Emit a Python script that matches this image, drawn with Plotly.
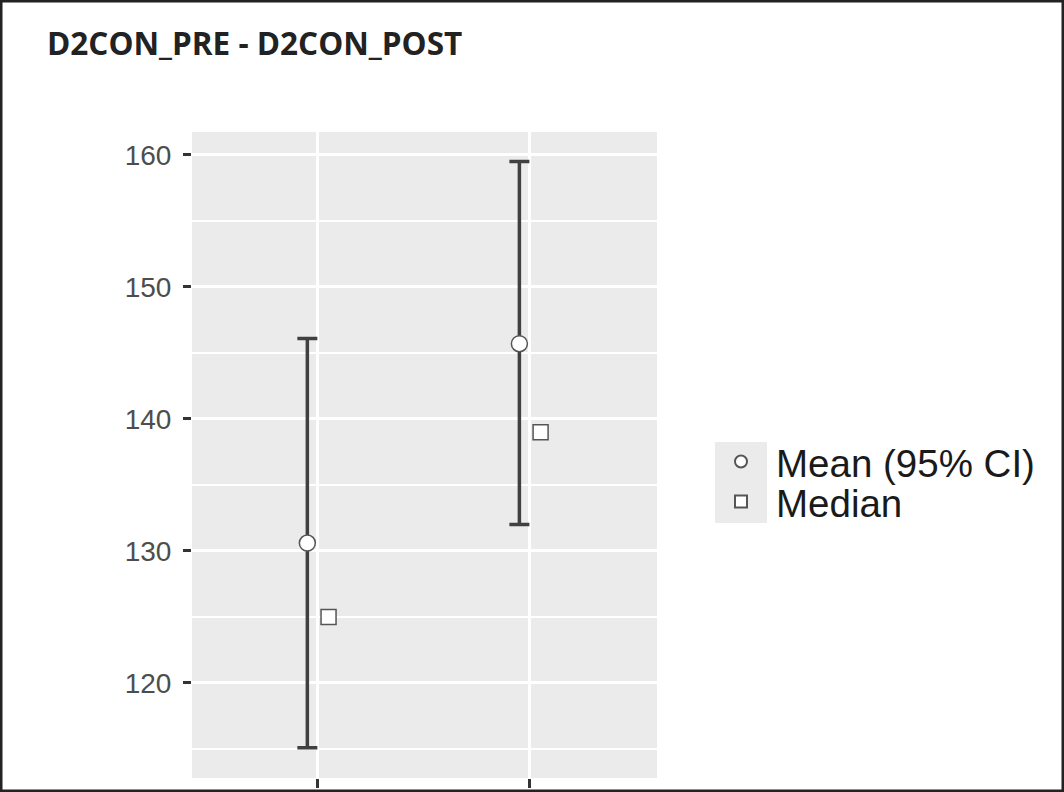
import plotly.graph_objects as go

# ---- data ----
categories = ["D2CON_PRE", "D2CON_POST"]
means = [130.6, 145.7]
ci_low = [115.1, 132.0]
ci_high = [146.1, 159.5]
medians = [125.0, 139.0]
y_ticks = [120, 130, 140, 150, 160]
title_text = "D2CON_PRE - D2CON_POST"
legend_names = ["Mean (95% CI)", "Median"]

W, H = 1064, 792
dodge = 0.05
pos = [i + 1 for i in range(len(categories))]

err_plus = [h - m for h, m in zip(ci_high, means)]
err_minus = [m - l for m, l in zip(means, ci_low)]

fig = go.Figure()
fig.add_trace(go.Scatter(
    x=[p - dodge for p in pos], y=means, mode="markers", name=legend_names[0],
    legend="legend",
    marker=dict(symbol="circle", size=16, color="white",
                line=dict(color="#555555", width=1.5)),
    error_y=dict(type="data", symmetric=False, array=err_plus, arrayminus=err_minus,
                 color="#404040", thickness=3.5, width=10),
))
fig.add_trace(go.Scatter(
    x=[p + dodge for p in pos], y=medians, mode="markers", name=legend_names[1],
    legend="legend2",
    marker=dict(symbol="square", size=15, color="white",
                line=dict(color="#555555", width=1.5)),
))

def px_x(v):
    return v / W

def px_y(v):
    return 1 - v / H

legend_font = dict(size=38.5, color="#1a1a1a", family="Liberation Sans, Arial, sans-serif")
legend_common = dict(x=px_x(706), xanchor="left", yanchor="middle",
                     bgcolor="rgba(0,0,0,0)", itemwidth=60, itemsizing="constant",
                     font=legend_font)

fig.update_layout(
    width=W, height=H,
    margin=dict(l=0, r=0, t=0, b=0),
    paper_bgcolor="white",
    plot_bgcolor="#EBEBEB",
    font=dict(family="Liberation Sans, Arial, sans-serif", color="#4D4D4D"),
    title=dict(text="<b>" + title_text + "</b>", x=px_x(47), xanchor="left",
               y=px_y(44), yanchor="middle", xref="paper", yref="paper",
               font=dict(family="Open Sans, sans-serif", size=31.5, color="#222222")),
    xaxis=dict(domain=[px_x(192), px_x(657)], range=[0.406, 2.599],
               tickvals=pos, ticktext=categories, showticklabels=False,
               ticks="outside", ticklen=9, tickwidth=3, tickcolor="#333333",
               showgrid=True, gridcolor="white", gridwidth=3,
               zeroline=False, showline=False, automargin=False),
    yaxis=dict(domain=[px_y(778), px_y(132)], range=[112.8, 161.74],
               tickvals=y_ticks, ticks="outside", ticklen=8, tickwidth=3,
               tickcolor="#333333", tickfont=dict(size=28, color="#4D4D4D"),
               ticklabelstandoff=6,
               showgrid=True, gridcolor="white", gridwidth=3,
               minor=dict(dtick=5, tick0=0, showgrid=True, gridcolor="white", gridwidth=1.5),
               zeroline=False, showline=False, automargin=False),
    showlegend=True,
    legend=dict(y=px_y(462), **legend_common),
    legend2=dict(y=px_y(502), **legend_common),
    shapes=[
        dict(type="rect", xref="paper", yref="paper", x0=px_x(715), x1=px_x(767),
             y0=px_y(523), y1=px_y(442), fillcolor="#EBEBEB", line=dict(width=0), layer="below"),
        dict(type="rect", xref="paper", yref="paper", x0=0, x1=1, y0=0, y1=1,
             line=dict(color="#222222", width=5), fillcolor="rgba(0,0,0,0)"),
    ],
)

fig.write_html("out.html")
